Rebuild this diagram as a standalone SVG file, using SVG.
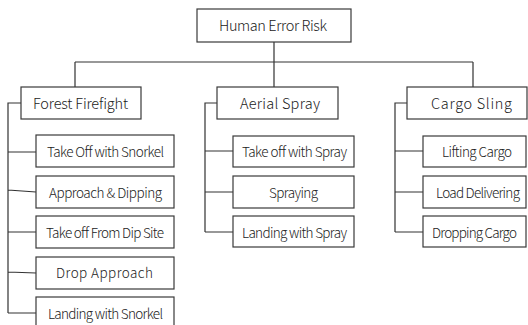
<svg xmlns="http://www.w3.org/2000/svg" width="528" height="325" viewBox="0 0 528 325">
<style>
rect.box{fill:#fff;stroke:#3a3a3a;stroke-width:1.2}
text{font-family:"Noto Sans CJK KR","Noto Sans",sans-serif;font-weight:300;fill:#222;text-anchor:middle}
.t1{font-size:14.5px}
.t2{font-size:13.5px}
.ln{fill:none;stroke:#333;stroke-width:1.2}
</style>
<rect width="528" height="325" fill="#fff"/>
<g id="connectors" class="ln">
<path d="M274,42 V62 M75,62 H473 M75,62 V87 M274,62 V87 M473,62 V87"/>
<path d="M21,103 H8 V313 M8,152 H36 M8,190 L36,192 M8,232 H36 M8,272 L36,273 M8,313 H36"/>
<path d="M217,103 H205 V232 M205,151 H233 M205,192 H233 M205,232 H233"/>
<path d="M407,103 H395 V232 M395,151 H423 M395,192 H423 M395,232 H423"/>
</g>
<g id="root"><rect class="box" x="197" y="9" width="154" height="33"/><text class="t1" x="273" y="31" textLength="108" lengthAdjust="spacing">Human Error Risk</text></g>
<g id="forest"><rect class="box" x="21" y="87" width="120" height="32"/><text class="t1" x="80.5" y="108.5" textLength="95" lengthAdjust="spacing">Forest Firefight</text></g>
<g id="aerial"><rect class="box" x="217" y="87" width="121" height="32"/><text class="t1" x="280" y="108.5" textLength="80" lengthAdjust="spacing">Aerial Spray</text></g>
<g id="cargo"><rect class="box" x="407" y="87" width="120" height="32"/><text class="t1" x="471.5" y="108.5" textLength="81" lengthAdjust="spacing">Cargo Sling</text></g>
<g id="f1"><rect class="box" x="36" y="135" width="138" height="32"/><text class="t2" x="105.5" y="156.5" textLength="117" lengthAdjust="spacing">Take Off with Snorkel</text></g>
<g id="f2"><rect class="box" x="36" y="176" width="138" height="32"/><text class="t2" x="105.5" y="197.5" textLength="113" lengthAdjust="spacing">Approach &amp; Dipping</text></g>
<g id="f3"><rect class="box" x="36" y="216" width="138" height="32"/><text class="t2" x="105" y="237.5" textLength="118" lengthAdjust="spacing">Take off From Dip Site</text></g>
<g id="f4"><rect class="box" x="36" y="257" width="138" height="32"/><text class="t2" x="104.5" y="278" textLength="97" lengthAdjust="spacing">Drop Approach</text></g>
<g id="f5"><rect class="box" x="36" y="297" width="138" height="33"/><text class="t2" x="105.5" y="318.5" textLength="115" lengthAdjust="spacing">Landing with Snorkel</text></g>
<g id="a1"><rect class="box" x="233" y="136" width="121" height="31"/><text class="t2" x="294.5" y="156.5" textLength="105" lengthAdjust="spacing">Take off with Spray</text></g>
<g id="a2"><rect class="box" x="233" y="176" width="121" height="32"/><text class="t2" x="293.5" y="197.5" textLength="49" lengthAdjust="spacing">Spraying</text></g>
<g id="a3"><rect class="box" x="233" y="216" width="121" height="31"/><text class="t2" x="294.5" y="237.5" textLength="105" lengthAdjust="spacing">Landing with Spray</text></g>
<g id="c1"><rect class="box" x="423" y="136" width="103" height="31"/><text class="t2" x="477" y="156.5" textLength="70" lengthAdjust="spacing">Lifting Cargo</text></g>
<g id="c2"><rect class="box" x="423" y="176" width="103" height="32"/><text class="t2" x="478" y="197.5" textLength="84" lengthAdjust="spacing">Load Delivering</text></g>
<g id="c3"><rect class="box" x="423" y="216" width="103" height="31"/><text class="t2" x="474.5" y="237.5" textLength="85" lengthAdjust="spacing">Dropping Cargo</text></g>
</svg>
